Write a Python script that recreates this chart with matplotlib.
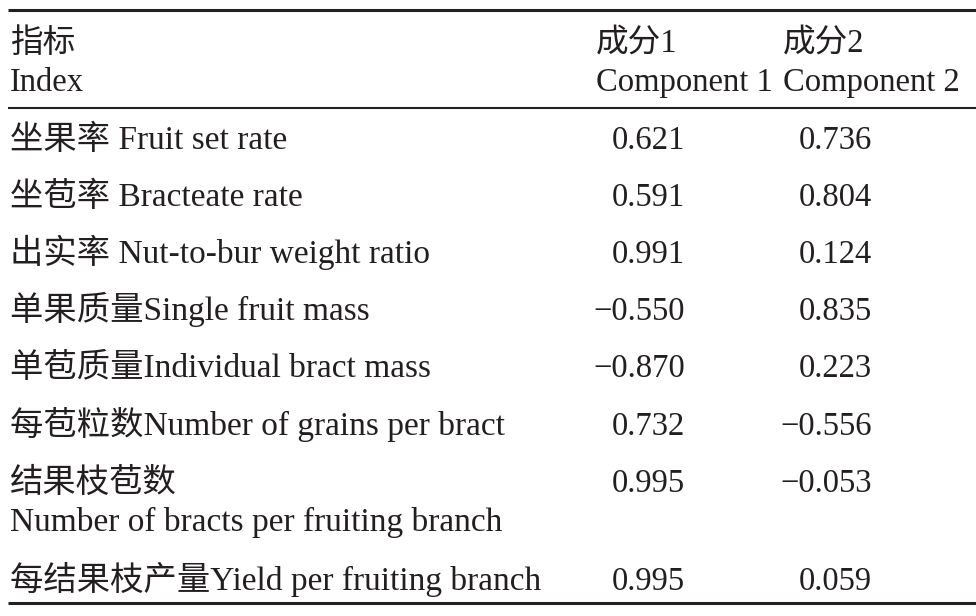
import matplotlib
matplotlib.use("Agg")
import matplotlib.pyplot as plt

plt.rcParams["font.family"] = ["Liberation Serif", "Noto Sans CJK SC"]

# table content
header_cn = ["指标", "成分1", "成分2"]
header_en = ["Index", "Component 1", "Component 2"]
index_labels = [
    "坐果率 Fruit set rate",
    "坐苞率 Bracteate rate",
    "出实率 Nut-to-bur weight ratio",
    "单果质量Single fruit mass",
    "单苞质量Individual bract mass",
    "每苞粒数Number of grains per bract",
    "结果枝苞数\nNumber of bracts per fruiting branch",
    "每结果枝产量Yield per fruiting branch",
]
comp1 = [0.621, 0.591, 0.991, -0.550, -0.870, 0.732, 0.995, 0.995]
comp2 = [0.736, 0.804, 0.124, 0.835, 0.223, -0.556, -0.053, 0.059]

row_base = [149, 206, 263, 320, 377, 435, 492, 590]   # baselines in px
FS = 23.5
FS_LAB = 24
INK = "#231f20"

def fmt(v):
    s = "%.3f" % abs(v)
    return ("\u2212" + s) if v < 0 else s

fig = plt.figure(figsize=(9.76, 6.16), dpi=100)
ax = fig.add_axes([0, 0, 1, 1])
ax.set_xlim(0, 976); ax.set_ylim(616, 0); ax.axis("off")

# rules
ax.plot([8, 976], [10, 10], color=INK, lw=2.2, solid_capstyle="butt")
ax.plot([8, 976], [108, 108], color=INK, lw=1.5, solid_capstyle="butt")
ax.plot([8, 976], [603, 603], color=INK, lw=2.2, solid_capstyle="butt")

# header
hx = [10, 596, 783]
for x, cn, en in zip(hx, header_cn, header_en):
    ax.text(x, 52, cn, ha="left", va="baseline", fontsize=FS, color=INK)
    ax.text(x, 91, en, ha="left", va="baseline", fontsize=FS, color=INK)

# body
for y, lab, a, b in zip(row_base, index_labels, comp1, comp2):
    for k, ln in enumerate(lab.split("\n")):
        ax.text(10, y + k * 39, ln, ha="left", va="baseline", fontsize=FS_LAB, color=INK)
    ax.text(685, y, fmt(a), ha="right", va="baseline", fontsize=FS, color=INK)
    ax.text(872, y, fmt(b), ha="right", va="baseline", fontsize=FS, color=INK)

fig.savefig("out.png", dpi=100, facecolor="white")
